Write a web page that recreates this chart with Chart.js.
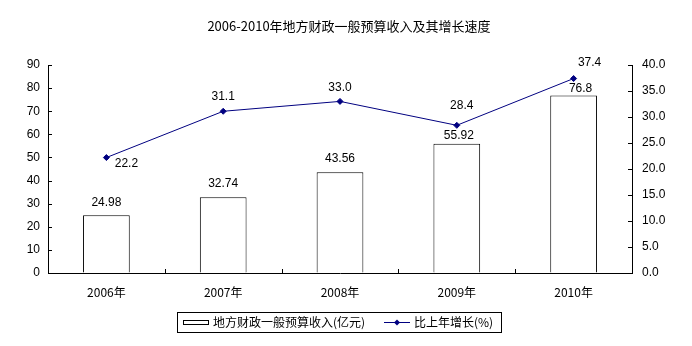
<!DOCTYPE html>
<html>
<head>
<meta charset="utf-8">
<script src="https://cdn.jsdelivr.net/npm/chart.js@4/dist/chart.umd.min.js"></script>
<style>
  html, body { margin: 0; padding: 0; background: #fff; }
  #wrap { width: 692px; height: 346px; }
</style>
</head>
<body>
<div id="wrap"><canvas id="c" width="692" height="346"></canvas></div>
<script>
// data
const years = ['2006年', '2007年', '2008年', '2009年', '2010年'];
const revenue = [24.98, 32.74, 43.56, 55.92, 76.8];
const growth = [22.2, 31.1, 33.0, 28.4, 37.4];
const revenueText = ['24.98', '32.74', '43.56', '55.92', '76.8'];
const growthText = ['22.2', '31.1', '33.0', '28.4', '37.4'];

const titleText = '2006-2010年地方财政一般预算收入及其增长速度';
const barLabel = '地方财政一般预算收入(亿元)';
const lineLabel = '比上年增长(%)';

const FONT = '"Liberation Sans", Arial, "Noto Sans CJK SC", sans-serif';
const CJK = '"Noto Sans CJK SC", "Liberation Sans", sans-serif';
const NAVY = '#000080';

// label offsets relative to the mark, tuned to avoid collisions like the original
const barLabelGap = [13, 14, 14, 8, 7];
const barLabelShift = [0, 0, 0, 2, 7];
const lineLabelGap = [-6, 15, 14, 20, 16];
const lineLabelShift = [20, 0, 0, 5, 16];

// ---------- extras: title, inward ticks, value labels, boxed legend ----------
const extras = {
  id: 'extras',
  afterDraw(chart) {
    const ctx = chart.ctx;
    const area = chart.chartArea;
    const x = chart.scales.x, yl = chart.scales.y, yr = chart.scales.y1;
    ctx.save();

    // title
    ctx.fillStyle = '#000';
    ctx.font = '13px ' + CJK;
    ctx.textAlign = 'center';
    ctx.textBaseline = 'middle';
    ctx.fillText(titleText, 349, 26);

    // inward tick marks
    ctx.strokeStyle = '#000';
    ctx.lineWidth = 1;
    ctx.beginPath();
    yl.ticks.forEach(t => {
      const py = Math.round(yl.getPixelForValue(t.value)) + 0.5;
      ctx.moveTo(area.left, py); ctx.lineTo(area.left + 4, py);
    });
    yr.ticks.forEach(t => {
      const py = Math.round(yr.getPixelForValue(t.value)) + 0.5;
      ctx.moveTo(area.right, py); ctx.lineTo(area.right - 4, py);
    });
    for (let i = 1; i < years.length; i++) {
      const px = Math.round((x.getPixelForValue(i - 1) + x.getPixelForValue(i)) / 2) + 0.5;
      ctx.moveTo(px, area.bottom); ctx.lineTo(px, area.bottom - 4);
    }
    ctx.stroke();

    // value labels
    ctx.font = '12px ' + FONT;
    ctx.fillStyle = '#000';
    const bars = chart.getDatasetMeta(1).data;
    bars.forEach((b, i) => {
      ctx.fillText(revenueText[i], b.x + barLabelShift[i], b.y - barLabelGap[i]);
    });
    const pts = chart.getDatasetMeta(0).data;
    pts.forEach((p, i) => {
      ctx.fillText(growthText[i], p.x + lineLabelShift[i], p.y - lineLabelGap[i]);
    });

    // legend box
    const lx = 177, ly = 312, lw = 324, lh = 20;
    ctx.strokeRect(lx + 0.5, ly + 0.5, lw, lh);
    const cy = ly + lh / 2 + 0.5;
    ctx.strokeRect(183.5, cy - 2, 25, 4);
    ctx.textAlign = 'left';
    ctx.font = '12px ' + CJK;
    ctx.fillText(barLabel, 213, cy);
    ctx.strokeStyle = NAVY;
    ctx.beginPath();
    ctx.moveTo(384, cy); ctx.lineTo(410, cy);
    ctx.stroke();
    ctx.fillStyle = NAVY;
    ctx.beginPath();
    ctx.moveTo(397, cy - 3); ctx.lineTo(400, cy); ctx.lineTo(397, cy + 3); ctx.lineTo(394, cy);
    ctx.closePath(); ctx.fill();
    ctx.fillStyle = '#000';
    ctx.fillText(lineLabel, 414, cy);

    ctx.restore();
  }
};

new Chart(document.getElementById('c'), {
  data: {
    labels: years,
    datasets: [
      {
        type: 'line',
        label: lineLabel,
        data: growth,
        yAxisID: 'y1',
        borderColor: NAVY,
        borderWidth: 1,
        backgroundColor: NAVY,
        pointStyle: 'rectRot',
        pointRadius: 3,
        pointHoverRadius: 3,
        tension: 0,
        order: 0
      },
      {
        type: 'bar',
        label: barLabel,
        data: revenue,
        yAxisID: 'y',
        backgroundColor: '#fff',
        borderColor: '#000',
        borderWidth: 1,
        barPercentage: 0.4,
        categoryPercentage: 1,
        order: 1
      }
    ]
  },
  options: {
    responsive: false,
    animation: false,
    events: [],
    layout: { padding: { top: 65, left: 0, right: 0, bottom: 0 } },
    plugins: {
      legend: { display: false },
      title: { display: false },
      tooltip: { enabled: false }
    },
    scales: {
      x: {
        offset: true,
        grid: { display: false, drawTicks: false },
        border: { display: true, color: '#000', width: 1 },
        ticks: { color: '#000', font: { size: 12, family: CJK }, padding: 12, maxRotation: 0 },
        afterFit(s) { s.height = 73; }
      },
      y: {
        position: 'left',
        min: 0, max: 90,
        ticks: { stepSize: 10, color: '#000', font: { size: 12, family: FONT }, padding: 8 },
        grid: { drawOnChartArea: false, drawTicks: false },
        border: { display: true, color: '#000', width: 1 },
        afterFit(s) { s.width = 48; }
      },
      y1: {
        position: 'right',
        min: 0, max: 40,
        ticks: {
          stepSize: 5, color: '#000', font: { size: 12, family: FONT }, padding: 10,
          callback: v => v.toFixed(1)
        },
        grid: { drawOnChartArea: false, drawTicks: false },
        border: { display: true, color: '#000', width: 1 },
        afterFit(s) { s.width = 60; }
      }
    }
  },
  plugins: [extras]
});
</script>
</body>
</html>
